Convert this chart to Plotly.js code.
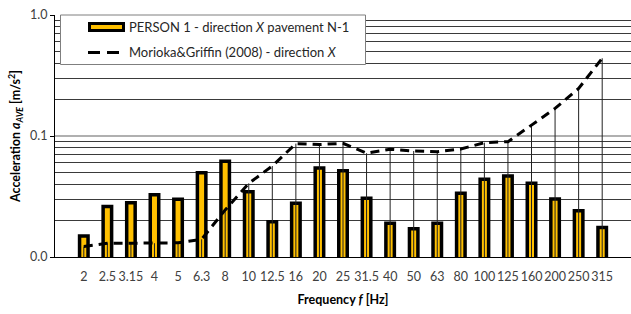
<!DOCTYPE html>
<html>
<head>
<meta charset="utf-8">
<script src="https://cdn.plot.ly/plotly-3.0.1.min.js"></script>
<style>html,body{margin:0;padding:0;background:#fff;}#chart{width:631px;height:314px;}</style>
</head>
<body>
<div id="chart"></div>
<script>
const frequencies = ["2","2.5","3.15","4","5","6.3","8","10","12.5","16","20","25","31.5","40","50","63","80","100","125","160","200","250","315"];
const person1 = [0.0149,0.0261,0.0281,0.0327,0.0300,0.0497,0.0618,0.0346,0.0196,0.0278,0.0544,0.0517,0.0306,0.0190,0.0171,0.0190,0.0336,0.0439,0.0467,0.0406,0.0302,0.0241,0.0175];
const morioka = [0.0122,0.0130,0.0130,0.0130,0.0131,0.0140,0.0245,0.0406,0.0565,0.0865,0.0850,0.0870,0.0720,0.0777,0.0752,0.0741,0.0780,0.0881,0.0898,0.123,0.169,0.247,0.439];
const yTickVals = [0.01, 0.1, 1];
const yTickText = ["0.0", "0.1", "1.0"];
const axisFloor = 0.01;

const FONT = "Lato, 'Open Sans', sans-serif";

const traces = [
  {
    type: "bar",
    x: frequencies,
    y: person1,
    width: 0.36,
    marker: {color: "#FFC000", line: {color: "#000", width: 3.5}},
    showlegend: false,
    hoverinfo: "x+y"
  },
  {
    type: "scatter",
    mode: "lines",
    x: frequencies,
    y: morioka,
    line: {color: "#000", width: 3, dash: "9px,6px"},
    error_y: {
      type: "data",
      symmetric: false,
      array: morioka.map(() => 0),
      arrayminus: morioka.map(v => v - axisFloor),
      width: 0,
      thickness: 1,
      color: "#222"
    },
    showlegend: false
  }
];

const L = 55, R = 0, T = 15, B = 57, W = 631, H = 314;
const pw = W - L - R, ph = H - T - B;
const px = v => (v - L) / pw;
const py = v => (H - B - v) / ph;

const layout = {
  width: W, height: H,
  margin: {l: L, r: R, t: T, b: B},
  paper_bgcolor: "#fff",
  plot_bgcolor: "#fff",
  font: {family: FONT, size: 12, color: "#404040"},
  xaxis: {
    type: "category",
    showgrid: false,
    showline: true, linecolor: "#000", linewidth: 1,
    ticks: "outside", ticklen: 8, tickcolor: "rgba(0,0,0,0)",
    tickangle: 0,
    tickfont: {family: FONT, size: 12.5, color: "#404040"},
    title: {text: "<b>Frequency <i>f</i> [Hz]</b>", font: {family: FONT, size: 12.5, color: "#000"}, standoff: 12}
  },
  yaxis: {
    type: "log",
    range: [-2, 0],
    tickvals: yTickVals,
    ticktext: yTickText,
    ticks: "outside", ticklen: 4, tickcolor: "#000",
    showline: true, linecolor: "#000", linewidth: 1,
    showgrid: true, gridcolor: "#b0b0b0", gridwidth: 2,
    zeroline: false,
    tickfont: {family: FONT, size: 12.5, color: "#404040"},
    minor: {
      tickvals: [0.02,0.03,0.04,0.05,0.06,0.07,0.08,0.09,0.2,0.3,0.4,0.5,0.6,0.7,0.8,0.9],
      showgrid: true, gridcolor: "#3a3a3a", gridwidth: 1,
      ticks: ""
    },
    title: {text: "<b>Acceleration <i>a</i><sub><i>AVE</i></sub> [m/s<sup>2</sup>]</b>", font: {family: FONT, size: 12.5, color: "#000"}, standoff: 6}
  },
  shapes: [
    {type: "rect", xref: "paper", yref: "paper", layer: "above",
     x0: px(60.5), x1: px(365.5), y0: py(64.5), y1: py(15),
     fillcolor: "#fff", line: {color: "#7f7f7f", width: 1}},
    {type: "rect", xref: "paper", yref: "paper", layer: "above",
     x0: px(89.5), x1: px(123.5), y0: py(30.5), y1: py(23.5),
     fillcolor: "#FFC000", line: {color: "#000", width: 3}},
    {type: "line", xref: "paper", yref: "paper", layer: "above",
     x0: px(88), x1: px(125), y0: py(52.5), y1: py(52.5),
     line: {color: "#000", width: 3, dash: "12px,7px"}}
  ],
  annotations: [
    {xref: "paper", yref: "paper", x: px(127), y: py(27), xanchor: "left", yanchor: "middle",
     showarrow: false, text: "PERSON 1 - direction <i>X</i> pavement N-1",
     font: {family: FONT, size: 13, color: "#262626"}},
    {xref: "paper", yref: "paper", x: px(127), y: py(52.5), xanchor: "left", yanchor: "middle",
     showarrow: false, text: "Morioka&amp;Griffin (2008) - direction <i>X</i>",
     font: {family: FONT, size: 13, color: "#262626"}}
  ]
};

Plotly.newPlot("chart", traces, layout, {displayModeBar: false, staticPlot: true});
</script>
</body>
</html>
